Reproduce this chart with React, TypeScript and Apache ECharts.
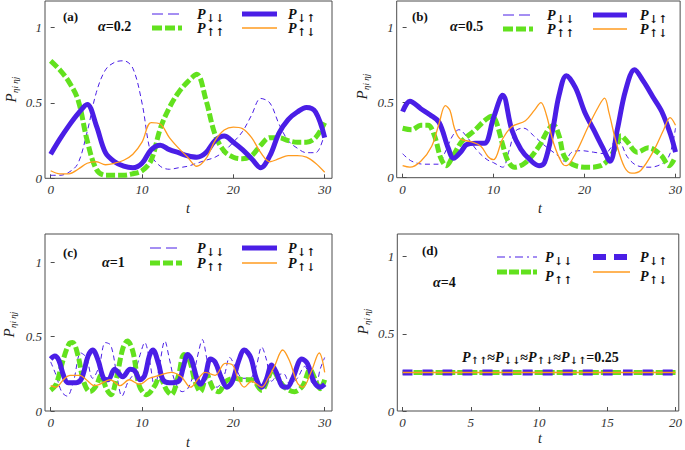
import React, { useEffect, useRef } from "react";
import * as echarts from "echarts";

const BLUE = "#4a1ee6";
const GREEN = "#62e11e";
const ORANGE = "#ff9b1f";
const FRAME = "#4d4d4d";
const SERIF = '"Liberation Serif", "Times New Roman", serif';
const ARROWFONT = '"DejaVu Serif", "Liberation Serif", serif';

const NAMES = ["P↓↓", "P↑↑", "P↓↑", "P↑↓"];

// ---------- panel (a): alpha = 0.2 ----------
const tA = [0, 1, 2, 3, 4, 5, 6, 7, 8, 9, 10, 11, 12, 13, 14, 15, 16, 17, 18, 19, 20, 21, 22, 23, 24, 25, 26, 27, 28, 29, 30];
const aDownDown = [0.02, 0.02, 0.04, 0.1, 0.31, 0.57, 0.72, 0.77, 0.78, 0.73, 0.5, 0.16, 0.08, 0.06, 0.07, 0.08, 0.1, 0.12, 0.14, 0.18, 0.24, 0.31, 0.42, 0.53, 0.5, 0.36, 0.25, 0.2, 0.17, 0.17, 0.3];
const aUpUp = [0.78, 0.72, 0.64, 0.52, 0.25, 0.06, 0.02, 0.02, 0.02, 0.03, 0.05, 0.12, 0.33, 0.47, 0.57, 0.64, 0.69, 0.52, 0.29, 0.18, 0.14, 0.13, 0.15, 0.22, 0.27, 0.27, 0.25, 0.24, 0.24, 0.27, 0.37];
const aDownUp = [0.16, 0.26, 0.35, 0.43, 0.49, 0.35, 0.17, 0.11, 0.08, 0.07, 0.1, 0.19, 0.22, 0.19, 0.17, 0.15, 0.14, 0.17, 0.25, 0.28, 0.24, 0.19, 0.13, 0.07, 0.15, 0.3, 0.39, 0.44, 0.47, 0.44, 0.27];
const aUpDown = [0.05, 0.03, 0.03, 0.06, 0.1, 0.11, 0.09, 0.1, 0.12, 0.16, 0.24, 0.37, 0.36, 0.27, 0.2, 0.14, 0.08, 0.13, 0.25, 0.32, 0.34, 0.33, 0.27, 0.17, 0.11, 0.13, 0.15, 0.15, 0.14, 0.1, 0.04];

// ---------- panel (b): alpha = 0.5  ([t, P]) ----------
const bDownDown = [[0, 0.16], [1, 0.11], [2.4, 0.09], [3.9, 0.09], [4.6, 0.16], [5.5, 0.28], [6.2, 0.32], [7.1, 0.27], [8.2, 0.18], [9.3, 0.12], [10, 0.1], [11, 0.07], [11.7, 0.18], [12.4, 0.31], [13.3, 0.33], [14.4, 0.28], [15.5, 0.22], [17, 0.15], [17.8, 0.11], [18.6, 0.17], [19.7, 0.18], [21, 0.17], [22.2, 0.16], [22.9, 0.2], [23.5, 0.26], [24, 0.23], [24.7, 0.14], [25.8, 0.08], [27.2, 0.07], [28.7, 0.1], [29.4, 0.16], [30, 0.33]];
const bUpUp = [[0, 0.33], [1, 0.32], [2, 0.35], [2.8, 0.35], [3.5, 0.28], [4.2, 0.13], [4.8, 0.08], [5.5, 0.14], [6.5, 0.24], [8, 0.32], [9, 0.38], [9.8, 0.41], [10.3, 0.37], [11, 0.22], [11.6, 0.11], [12.3, 0.07], [13.5, 0.1], [15, 0.21], [16, 0.32], [16.6, 0.35], [17.2, 0.28], [17.8, 0.14], [19, 0.08], [20.5, 0.07], [21.8, 0.08], [22.6, 0.12], [23.5, 0.21], [24, 0.28], [24.7, 0.24], [25.8, 0.17], [27, 0.2], [28.4, 0.15], [29.3, 0.08], [30, 0.14]];
const bDownUp = [[0, 0.44], [0.8, 0.51], [2, 0.46], [3, 0.42], [4, 0.37], [5, 0.2], [5.6, 0.13], [6.5, 0.18], [7, 0.22], [8, 0.23], [9, 0.23], [10, 0.4], [11, 0.55], [12, 0.32], [13, 0.19], [14, 0.12], [15, 0.08], [15.6, 0.1], [16.5, 0.32], [17.2, 0.55], [18, 0.68], [19, 0.6], [20, 0.44], [21, 0.32], [22, 0.2], [22.8, 0.11], [23.6, 0.32], [24.5, 0.58], [25.5, 0.72], [26.5, 0.64], [27.5, 0.54], [28.5, 0.44], [29.5, 0.28], [30, 0.17]];
const bUpDown = [[0, 0.08], [0.8, 0.07], [2, 0.11], [3.2, 0.21], [4, 0.36], [4.7, 0.48], [5.2, 0.45], [5.7, 0.33], [6.3, 0.26], [7.5, 0.24], [8.6, 0.21], [9.4, 0.14], [10, 0.12], [11, 0.26], [12, 0.34], [13.5, 0.38], [14.5, 0.45], [15.2, 0.5], [15.8, 0.42], [16.6, 0.23], [17.5, 0.1], [18, 0.08], [19, 0.16], [20.4, 0.34], [21.5, 0.47], [22.2, 0.53], [22.7, 0.43], [23.5, 0.23], [24.4, 0.07], [25.2, 0.03], [26.2, 0.05], [27.6, 0.18], [28.7, 0.32], [29.4, 0.4], [30, 0.35]];

// ---------- panel (c): alpha = 1  ([t, P]) ----------
const cDownDown = [[0, 0.33], [0.6, 0.24], [1.2, 0.13], [1.8, 0.1], [2.5, 0.2], [3.3, 0.39], [3.9, 0.36], [4.6, 0.22], [5.3, 0.3], [6, 0.46], [6.6, 0.44], [7.3, 0.22], [7.8, 0.1], [8.5, 0.2], [9.2, 0.26], [9.8, 0.38], [10.3, 0.46], [10.8, 0.35], [11.4, 0.16], [11.9, 0.3], [12.5, 0.47], [13, 0.35], [13.6, 0.2], [14.4, 0.13], [15, 0.15], [15.6, 0.24], [16.2, 0.4], [16.6, 0.48], [17.1, 0.35], [17.6, 0.2], [18.2, 0.16], [19, 0.24], [19.6, 0.36], [20.2, 0.3], [21, 0.22], [21.8, 0.22], [22.5, 0.3], [23.1, 0.43], [23.6, 0.35], [24.2, 0.2], [24.8, 0.24], [25.5, 0.25], [26.2, 0.18], [27, 0.22], [27.8, 0.3], [28.5, 0.2], [29, 0.17], [29.5, 0.28], [30, 0.36]];
const cUpUp = [[0, 0.14], [0.6, 0.18], [1.3, 0.33], [2, 0.45], [2.4, 0.46], [3, 0.37], [3.6, 0.2], [4.3, 0.13], [5, 0.17], [5.5, 0.24], [6.1, 0.15], [6.6, 0.11], [7.2, 0.22], [7.9, 0.42], [8.4, 0.47], [9, 0.4], [9.7, 0.17], [10.5, 0.11], [11.4, 0.17], [11.9, 0.23], [12.7, 0.14], [13.2, 0.11], [14, 0.24], [14.6, 0.38], [15.2, 0.34], [15.8, 0.2], [16.4, 0.13], [17.1, 0.24], [17.8, 0.15], [18.4, 0.13], [19.2, 0.2], [20.2, 0.22], [21.1, 0.21], [22, 0.21], [23.1, 0.14], [23.8, 0.22], [24.3, 0.28], [24.9, 0.22], [25.6, 0.16], [26.7, 0.13], [27.6, 0.17], [28.4, 0.28], [28.9, 0.22], [29.5, 0.15], [30, 0.21]];
const cDownUp = [[0, 0.35], [0.45, 0.37], [0.9, 0.34], [1.4, 0.24], [1.9, 0.19], [2.8, 0.19], [3.4, 0.22], [4.1, 0.37], [4.6, 0.41], [5.2, 0.34], [5.8, 0.22], [6.3, 0.21], [7, 0.28], [7.9, 0.23], [8.7, 0.28], [9.2, 0.27], [9.8, 0.21], [10.3, 0.24], [10.8, 0.37], [11.2, 0.41], [11.8, 0.32], [12.3, 0.21], [13, 0.19], [14, 0.2], [14.5, 0.29], [15, 0.38], [15.4, 0.35], [16, 0.22], [16.4, 0.18], [16.9, 0.23], [17.5, 0.35], [18, 0.33], [18.7, 0.22], [19.3, 0.16], [19.9, 0.2], [20.6, 0.34], [21.2, 0.41], [21.9, 0.36], [22.5, 0.22], [23.1, 0.16], [23.6, 0.21], [24.2, 0.31], [24.7, 0.26], [25.3, 0.17], [25.9, 0.16], [26.5, 0.22], [27.5, 0.35], [28.1, 0.32], [28.8, 0.2], [29.5, 0.16], [30, 0.18]];
const cUpDown = [[0, 0.17], [0.6, 0.16], [1.4, 0.21], [2.1, 0.24], [3.2, 0.24], [3.9, 0.21], [4.8, 0.17], [5.4, 0.18], [6.5, 0.21], [7.6, 0.17], [8.6, 0.21], [9.7, 0.18], [10.8, 0.22], [11.9, 0.24], [13.2, 0.26], [14.3, 0.23], [15.3, 0.16], [16.2, 0.22], [16.9, 0.26], [18, 0.24], [19.1, 0.32], [19.9, 0.31], [20.5, 0.22], [21.2, 0.16], [22, 0.2], [23.1, 0.16], [23.8, 0.22], [24.5, 0.3], [25.4, 0.41], [26.2, 0.33], [27, 0.19], [27.6, 0.16], [28.5, 0.26], [29.4, 0.39], [30, 0.26]];

// ---------- panel (d): alpha = 4 ----------
const tD = [0, 20];
const dDownDown = [0.25, 0.25];
const dUpUp = [0.25, 0.25];
const dDownUp = [0.25, 0.25];
const dUpDown = [0.25, 0.25];

const xTicks30 = [0, 10, 20, 30];
const xTicks20 = [0, 5, 10, 15, 20];
const yTicks = [0, 0.5, 1];

const zip = (t: number[], v: number[]) => t.map((x, i) => [x, v[i]]);

const STYLE_ABC: any[] = [
  { color: BLUE, width: 1, type: [5, 3.5], z: 2 },
  { color: GREEN, width: 5, type: [9, 3], z: 3 },
  { color: BLUE, width: 5, type: "solid", z: 4 },
  { color: ORANGE, width: 1.3, type: "solid", z: 5 },
];
const STYLE_D: any[] = [
  { color: BLUE, width: 1, type: [6, 3, 1, 3], z: 2 },
  { color: GREEN, width: 5, type: [9, 2], z: 3 },
  { color: BLUE, width: 6, type: [10, 10], z: 4 },
  { color: ORANGE, width: 1.5, type: "solid", z: 5 },
];

const PANELS = [
  { grid: { left: 45, top: 1, width: 287, height: 177.3 }, xMin: -0.62, xMax: 30.8, yMax: 1.177, xTicks: xTicks30, styles: STYLE_ABC,
    data: [zip(tA, aDownDown), zip(tA, aUpUp), zip(tA, aDownUp), zip(tA, aUpDown)] },
  { grid: { left: 396.7, top: 1, width: 286.3, height: 176.7 }, xMin: -0.65, xMax: 30.51, yMax: 1.178, xTicks: xTicks30, styles: STYLE_ABC,
    data: [bDownDown, bUpUp, bDownUp, bUpDown] },
  { grid: { left: 45, top: 234, width: 287, height: 177 }, xMin: -0.62, xMax: 30.8, yMax: 1.19, xTicks: xTicks30, styles: STYLE_ABC,
    data: [cDownDown, cUpUp, cDownUp, cUpDown] },
  { grid: { left: 397.3, top: 234, width: 282.7, height: 177 }, xMin: -0.39, xMax: 20.24, yMax: 1.147, xTicks: xTicks20, styles: STYLE_D,
    data: [zip(tD, dDownDown), zip(tD, dUpUp), zip(tD, dDownUp), zip(tD, dUpDown)] },
];

const LABELS = [
  { tag: "(a)", alpha: "=0.2", tagX: 63, tagY: 16, alX: 98, alY: 26, r1: 14, r2: 28, r2t: 28, c1a: 152, c1b: 182, c1t: 197, c2a: 242, c2b: 277, c2t: 288, yLabX: 11, yLabY: 98, tX: 188, tY: 208 },
  { tag: "(b)", alpha: "=0.5", tagX: 412, tagY: 16, alX: 450, alY: 26, r1: 15, r2: 29, r2t: 29, c1a: 503, c1b: 533, c1t: 547, c2a: 593, c2b: 627, c2t: 640, yLabX: 362, yLabY: 95, tX: 540, tY: 208 },
  { tag: "(c)", alpha: "=1", tagX: 63, tagY: 252, alX: 102, alY: 262, r1: 248, r2: 263, r2t: 263, c1a: 150, c1b: 182, c1t: 197, c2a: 242, c2b: 277, c2t: 288, yLabX: 9, yLabY: 333, tX: 188, tY: 442 },
  { tag: "(d)", alpha: "=4", tagX: 422, tagY: 250, alX: 433, alY: 282, r1: 257, r2: 272, r2t: 276, c1a: 497, c1b: 537, c1t: 545, c2a: 593, c2b: 630, c2t: 640, yLabX: 363, yLabY: 330, tX: 540, tY: 438 },
];

const LEGEND_ABC: any[] = [
  { color: BLUE, width: 1, dash: [11, 5] },
  { color: GREEN, width: 5, dash: [10, 3] },
  { color: BLUE, width: 5, dash: null },
  { color: ORANGE, width: 1.5, dash: null },
];
const LEGEND_D: any[] = [
  { color: BLUE, width: 1.2, dash: [8, 4, 2, 4] },
  { color: GREEN, width: 5, dash: [10, 2] },
  { color: BLUE, width: 6, dash: [13, 8] },
  { color: ORANGE, width: 1.5, dash: null },
];

function legendItem(x1: number, x2: number, y: number, tx: number, ty: number, st: any, arrows: string) {
  return [
    { type: "line", silent: true, shape: { x1, y1: y, x2, y2: y }, style: { stroke: st.color, lineWidth: st.width, lineDash: st.dash || undefined } },
    { type: "text", silent: true, x: tx, y: ty, style: { text: "P", font: `italic bold 14px ${SERIF}`, fill: "#111", align: "left", verticalAlign: "middle" } },
    { type: "text", silent: true, x: tx + 9, y: ty + 4, style: { text: arrows, font: `bold 11px ${ARROWFONT}`, fill: "#111", align: "left", verticalAlign: "middle" } },
  ];
}

function buildOption() {
  const grids: any[] = [];
  const xAxes: any[] = [];
  const yAxes: any[] = [];
  const series: any[] = [];
  const graphic: any[] = [];
  const labelStyle = { fontFamily: SERIF, fontStyle: "italic", fontSize: 13, color: "#333" };

  PANELS.forEach((p, i) => {
    grids.push({ ...p.grid, show: true, borderColor: FRAME, borderWidth: 1, backgroundColor: "transparent" });
    xAxes.push({
      type: "value", gridIndex: i, min: p.xMin, max: p.xMax,
      axisLine: { show: false }, splitLine: { show: false },
      axisTick: { show: true, inside: true, length: 4, customValues: p.xTicks, lineStyle: { color: FRAME } },
      axisLabel: { ...labelStyle, margin: 5, customValues: p.xTicks, formatter: (v: number) => String(v) },
    });
    yAxes.push({
      type: "value", gridIndex: i, min: 0, max: p.yMax,
      axisLine: { show: false }, splitLine: { show: false },
      axisTick: { show: true, inside: true, length: 4, customValues: yTicks, lineStyle: { color: FRAME } },
      axisLabel: { ...labelStyle, margin: 3, customValues: yTicks, formatter: (v: number) => String(v) },
    });
    p.data.forEach((d, k) => {
      const st = p.styles[k];
      series.push({
        type: "line", name: NAMES[k], xAxisIndex: i, yAxisIndex: i, data: d,
        smooth: 0.35, showSymbol: false, symbol: "none", silent: true, z: st.z,
        lineStyle: { color: st.color, width: st.width, type: st.type, cap: "butt", join: "round" },
        itemStyle: { color: st.color },
      });
    });

    const L = LABELS[i];
    const lg = i === 3 ? LEGEND_D : LEGEND_ABC;
    graphic.push({ type: "text", silent: true, x: L.tagX, y: L.tagY, style: { text: L.tag, font: `bold 13px ${SERIF}`, fill: "#111", verticalAlign: "middle" } });
    graphic.push({
      type: "text", silent: true, x: L.alX, y: L.alY,
      style: {
        text: `{a|α}{b|${L.alpha}}`, verticalAlign: "middle", fill: "#111",
        rich: { a: { font: `italic bold 14px ${SERIF}`, fill: "#111" }, b: { font: `bold 14px ${SERIF}`, fill: "#111" } },
      },
    });
    graphic.push(...legendItem(L.c1a, L.c1b, L.r1, L.c1t, L.r1, lg[0], "↓↓"));
    graphic.push(...legendItem(L.c1a, L.c1b, L.r2, L.c1t, L.r2t, lg[1], "↑↑"));
    graphic.push(...legendItem(L.c2a, L.c2b, L.r1, L.c2t, L.r1, lg[2], "↓↑"));
    graphic.push(...legendItem(L.c2a, L.c2b, L.r2, L.c2t, L.r2t, lg[3], "↑↓"));
    graphic.push({
      type: "group", x: L.yLabX, y: L.yLabY, rotation: Math.PI / 2, silent: true,
      children: [
        { type: "text", x: 0, y: 0, style: { text: "P", font: `italic 15px ${SERIF}`, fill: "#222", align: "center", verticalAlign: "middle" } },
        { type: "text", x: 5, y: 4, style: { text: "ηi ηj", font: `italic 9px ${SERIF}`, fill: "#222", align: "left", verticalAlign: "middle" } },
      ],
    });
    graphic.push({ type: "text", silent: true, x: L.tX, y: L.tY, style: { text: "t", font: `italic 14px ${SERIF}`, fill: "#222", align: "center", verticalAlign: "middle" } });
  });

  graphic.push({
    type: "text", silent: true, x: 462, y: 357,
    style: {
      text: "{p|P}{s|↑↑}{e|≈}{p|P}{s|↓↓}{e|≈}{p|P}{s|↑↓}{e|≈}{p|P}{s|↓↑}{e|=0.25}", verticalAlign: "middle", fill: "#111",
      rich: {
        p: { font: `italic bold 14px ${SERIF}`, fill: "#111" },
        s: { font: `bold 10px ${ARROWFONT}`, fill: "#111", padding: [6, 0, 0, 0] },
        e: { font: `bold 14px ${SERIF}`, fill: "#111" },
      },
    },
  });

  return {
    animation: false,
    backgroundColor: "#ffffff",
    grid: grids,
    xAxis: xAxes,
    yAxis: yAxes,
    series,
    graphic: { elements: graphic },
  };
}

export default function App() {
  const ref = useRef<HTMLDivElement>(null);
  useEffect(() => {
    if (!ref.current) return;
    const chart = echarts.init(ref.current, null, { renderer: "svg" });
    chart.setOption(buildOption() as any);
    return () => chart.dispose();
  }, []);
  return <div ref={ref} style={{ position: "fixed", left: 0, top: 0, width: 685, height: 450, background: "#fff" }} />;
}
